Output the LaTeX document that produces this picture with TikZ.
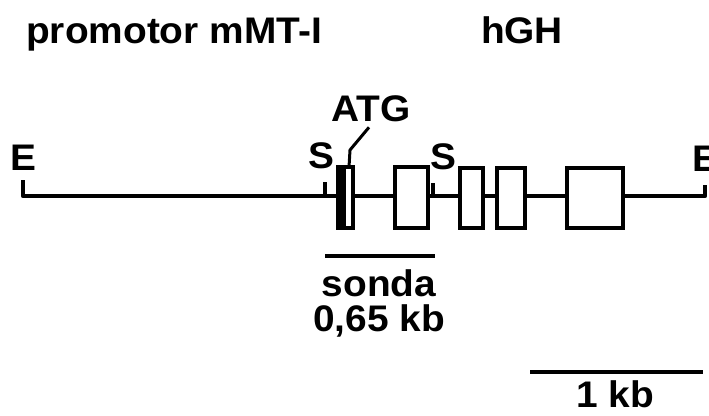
\documentclass[tikz,border=0pt]{standalone}
\usepackage{fontspec}
\setmainfont[FakeStretch=1.05]{Liberation Sans}
\begin{document}
\begin{tikzpicture}[x=1pt,y=-1pt,
  ln/.style={line width=4.2pt},
  exon/.style={ln,fill=white,line join=miter},
  lbl/.style={font=\fontsize{37}{39}\selectfont\bfseries,inner sep=0pt},
  lblb/.style={lbl,anchor=base}]
\useasboundingbox (0,0) rectangle (709,415);
% titles
\node[lblb,anchor=base west] (title) at (26,43) {promotor mMT-I};
\node[lblb] (hgh) at (522,43) {hGH};
% main line and ends
\coordinate (eL) at (23,180);
\coordinate (eR) at (705,185);
\draw[ln,line join=round] (eL) -- (23,196) -- (705,196) -- (eR);
\node[lbl] (EL) at (23,158) {E};
\node[lbl] (ER) at (705,159) {E};
% S sites
\coordinate (sL) at (325,182);
\coordinate (sR) at (433,183);
\draw[ln] (sL) -- (325,196);
\draw[ln] (sR) -- (433,196);
\node[lbl] (SL) at (321,156) {S};
\node[lbl] (SR) at (443,157) {S};
% exons
\draw[exon] (338,167) rectangle (353,228);
\fill (338,167) rectangle (346,228);
\node[inner sep=0pt] (atgbox) at (349,167) {};
\draw[exon] (395,167) rectangle (428,228);
\draw[exon] (460,168) rectangle (483,228);
\draw[exon] (497,168) rectangle (525,228);
\draw[exon] (567,168) rectangle (623,228);
% ATG
\node[lbl] (atg) at (371,109) {ATG};
\draw[ln,line width=3pt] (atg.south) ++(-2,5) -- (350,150) -- (atgbox);
% probe
\coordinate (p1) at (325,256);
\coordinate (p2) at (435,256);
\draw[ln] (p1) -- (p2);
\node[lblb] (sonda) at (379,296) {sonda};
\node[lblb] (size) at (379,331) {0,65 kb};
% scale bar
\coordinate (b1) at (530,372);
\coordinate (b2) at (703,372);
\draw[ln] (b1) -- (b2);
\node[lblb] (kb) at (615,407) {1 kb};
\end{tikzpicture}
\end{document}
